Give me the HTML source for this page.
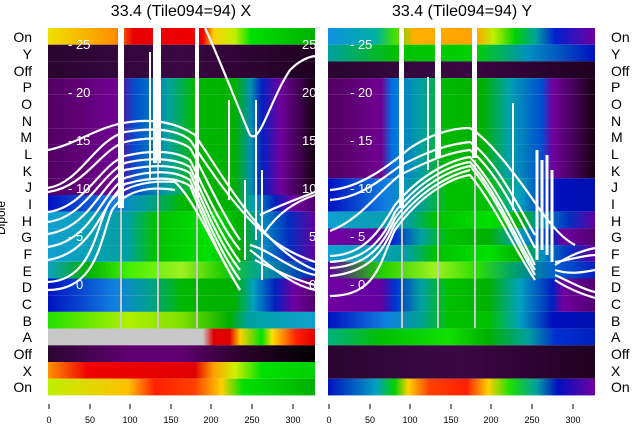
<!DOCTYPE html>
<html><head><meta charset="utf-8"><style>
body{margin:0;background:#fff;}
svg{display:block;font-family:"Liberation Sans",sans-serif;}
</style></head><body>
<svg width="640" height="440" viewBox="0 0 640 440">
<defs>
<linearGradient id="L0"><stop offset="0" stop-color="#f0e000"/><stop offset=".25" stop-color="#ff9000"/><stop offset=".32" stop-color="#e80000"/><stop offset=".58" stop-color="#f00000"/><stop offset=".62" stop-color="#ffd000"/><stop offset=".7" stop-color="#c0f000"/><stop offset=".76" stop-color="#00e000"/><stop offset="1" stop-color="#00b000"/></linearGradient>
<linearGradient id="Ldk"><stop offset="0" stop-color="#2a0630"/><stop offset=".5" stop-color="#3a0845"/><stop offset="1" stop-color="#200020"/></linearGradient>
<linearGradient id="Lp"><stop offset="0" stop-color="#500060"/><stop offset=".25" stop-color="#700090"/><stop offset=".33" stop-color="#0050d0"/><stop offset=".45" stop-color="#00a0a0"/><stop offset=".55" stop-color="#00b800"/><stop offset=".7" stop-color="#00b000"/><stop offset=".76" stop-color="#0090b0"/><stop offset=".8" stop-color="#0020c0"/><stop offset=".87" stop-color="#7000a0"/><stop offset=".94" stop-color="#400050"/><stop offset="1" stop-color="#150010"/></linearGradient>
<linearGradient id="Lb"><stop offset="0" stop-color="#0010c0"/><stop offset=".25" stop-color="#1080e0"/><stop offset=".38" stop-color="#00a090"/><stop offset=".5" stop-color="#00b800"/><stop offset=".7" stop-color="#00b000"/><stop offset=".77" stop-color="#00a0c0"/><stop offset=".85" stop-color="#0020c0"/><stop offset=".92" stop-color="#7000a0"/><stop offset="1" stop-color="#500070"/></linearGradient>
<linearGradient id="Lt"><stop offset="0" stop-color="#10a0d0"/><stop offset=".3" stop-color="#00a0a0"/><stop offset=".4" stop-color="#00c000"/><stop offset=".6" stop-color="#00e000"/><stop offset=".72" stop-color="#00b000"/><stop offset=".8" stop-color="#0090c0"/><stop offset=".9" stop-color="#0030c0"/><stop offset="1" stop-color="#6000a0"/></linearGradient>
<linearGradient id="LE"><stop offset="0" stop-color="#10a0c0"/><stop offset=".15" stop-color="#00b000"/><stop offset=".3" stop-color="#40f000"/><stop offset=".5" stop-color="#a0f020"/><stop offset=".65" stop-color="#20d000"/><stop offset=".8" stop-color="#00a0a0"/><stop offset="1" stop-color="#0020c0"/></linearGradient>
<linearGradient id="LB"><stop offset="0" stop-color="#20e000"/><stop offset=".3" stop-color="#b0f000"/><stop offset=".5" stop-color="#80e000"/><stop offset=".68" stop-color="#00b000"/><stop offset=".75" stop-color="#00a0a0"/><stop offset="1" stop-color="#10a0d0"/></linearGradient>
<linearGradient id="LA"><stop offset="0" stop-color="#c8c8c8"/><stop offset=".58" stop-color="#c8c8c8"/><stop offset=".62" stop-color="#e00000"/><stop offset=".68" stop-color="#e00000"/><stop offset=".72" stop-color="#ffd000"/><stop offset=".8" stop-color="#00e000"/><stop offset=".84" stop-color="#ffe000"/><stop offset=".93" stop-color="#ff2000"/><stop offset="1" stop-color="#e00000"/></linearGradient>
<linearGradient id="LO"><stop offset="0" stop-color="#2a0630"/><stop offset=".3" stop-color="#600070"/><stop offset=".5" stop-color="#600070"/><stop offset=".7" stop-color="#300030"/><stop offset="1" stop-color="#000000"/></linearGradient>
<linearGradient id="LX"><stop offset="0" stop-color="#ff9000"/><stop offset=".15" stop-color="#f00000"/><stop offset=".55" stop-color="#e00000"/><stop offset=".62" stop-color="#ffa000"/><stop offset=".7" stop-color="#d0f000"/><stop offset=".8" stop-color="#00e000"/><stop offset="1" stop-color="#00d000"/></linearGradient>
<linearGradient id="LN"><stop offset="0" stop-color="#c0f000"/><stop offset=".3" stop-color="#ffc000"/><stop offset=".4" stop-color="#ff2000"/><stop offset=".55" stop-color="#ff4000"/><stop offset=".65" stop-color="#ffd000"/><stop offset=".73" stop-color="#00e000"/><stop offset="1" stop-color="#00b000"/></linearGradient>
<linearGradient id="R0"><stop offset="0" stop-color="#1090e0"/><stop offset=".18" stop-color="#00b0a0"/><stop offset=".25" stop-color="#40e000"/><stop offset=".32" stop-color="#ffb000"/><stop offset=".55" stop-color="#ffa000"/><stop offset=".62" stop-color="#c0f000"/><stop offset=".7" stop-color="#00d000"/><stop offset=".78" stop-color="#00a0a0"/><stop offset=".85" stop-color="#0020d0"/><stop offset="1" stop-color="#7000a0"/></linearGradient>
<linearGradient id="RY"><stop offset="0" stop-color="#00a0a0"/><stop offset=".25" stop-color="#00c000"/><stop offset=".55" stop-color="#00d000"/><stop offset=".75" stop-color="#0090c0"/><stop offset="1" stop-color="#0010c0"/></linearGradient>
<linearGradient id="Rp"><stop offset="0" stop-color="#500060"/><stop offset=".2" stop-color="#700090"/><stop offset=".24" stop-color="#0070e0"/><stop offset=".35" stop-color="#00a0a0"/><stop offset=".44" stop-color="#00b800"/><stop offset=".58" stop-color="#00b000"/><stop offset=".68" stop-color="#00a0b0"/><stop offset=".8" stop-color="#0050d0"/><stop offset=".84" stop-color="#7000a0"/><stop offset=".93" stop-color="#400050"/><stop offset="1" stop-color="#150010"/></linearGradient>
<linearGradient id="Rb"><stop offset="0" stop-color="#0010c0"/><stop offset=".22" stop-color="#1080e0"/><stop offset=".35" stop-color="#00a090"/><stop offset=".45" stop-color="#00c000"/><stop offset=".6" stop-color="#00c000"/><stop offset=".72" stop-color="#00a0c0"/><stop offset=".84" stop-color="#0010c0"/><stop offset="1" stop-color="#0010b0"/></linearGradient>
<linearGradient id="Rv"><stop offset="0" stop-color="#7000a0"/><stop offset=".2" stop-color="#6000a0"/><stop offset=".25" stop-color="#0030d0"/><stop offset=".35" stop-color="#00a0a0"/><stop offset=".45" stop-color="#00c000"/><stop offset=".6" stop-color="#00b000"/><stop offset=".72" stop-color="#00a0c0"/><stop offset=".84" stop-color="#0020c0"/><stop offset=".88" stop-color="#7000a0"/><stop offset="1" stop-color="#500070"/></linearGradient>
<linearGradient id="RE"><stop offset="0" stop-color="#6000a0"/><stop offset=".2" stop-color="#20d000"/><stop offset=".4" stop-color="#a0f020"/><stop offset=".55" stop-color="#30e000"/><stop offset=".7" stop-color="#00a070"/><stop offset=".85" stop-color="#0060d0"/><stop offset="1" stop-color="#0020c0"/></linearGradient>
<linearGradient id="RA"><stop offset="0" stop-color="#00b080"/><stop offset=".2" stop-color="#00c000"/><stop offset=".45" stop-color="#10e000"/><stop offset=".6" stop-color="#00b000"/><stop offset=".75" stop-color="#00a0a0"/><stop offset=".85" stop-color="#0030d0"/><stop offset="1" stop-color="#0020c0"/></linearGradient>
<linearGradient id="RN"><stop offset="0" stop-color="#0010c0"/><stop offset=".18" stop-color="#00a0c0"/><stop offset=".25" stop-color="#00d000"/><stop offset=".3" stop-color="#ffd000"/><stop offset=".38" stop-color="#ff4000"/><stop offset=".52" stop-color="#ff2000"/><stop offset=".6" stop-color="#ffd000"/><stop offset=".68" stop-color="#20e000"/><stop offset=".78" stop-color="#00a0a0"/><stop offset=".86" stop-color="#0010c0"/><stop offset="1" stop-color="#7000a0"/></linearGradient>
</defs>

<text x="181" y="16" font-size="16" text-anchor="middle">33.4 (Tile094=94) X</text>
<text x="462" y="16" font-size="16" text-anchor="middle">33.4 (Tile094=94) Y</text>

<g>
<rect x="48" y="28" width="267" height="16.7" fill="url(#L0)"/>
<rect x="48" y="44.7" width="267" height="16.7" fill="url(#Ldk)"/>
<rect x="48" y="61.4" width="267" height="16.7" fill="url(#Ldk)"/>
<rect x="48" y="78.1" width="267" height="16.7" fill="url(#Lp)"/>
<rect x="48" y="94.8" width="267" height="16.7" fill="url(#Lp)"/>
<rect x="48" y="111.5" width="267" height="16.7" fill="url(#Lp)"/>
<rect x="48" y="128.2" width="267" height="16.7" fill="url(#Lp)"/>
<rect x="48" y="144.9" width="267" height="16.7" fill="url(#Lp)"/>
<rect x="48" y="161.6" width="267" height="16.7" fill="url(#Lp)"/>
<rect x="48" y="178.3" width="267" height="16.7" fill="url(#Lp)"/>
<rect x="48" y="195" width="267" height="16.7" fill="url(#Lb)"/>
<rect x="48" y="211.7" width="267" height="16.7" fill="url(#Lt)"/>
<rect x="48" y="228.4" width="267" height="16.7" fill="url(#Lt)"/>
<rect x="48" y="245.1" width="267" height="16.7" fill="url(#Lt)"/>
<rect x="48" y="261.8" width="267" height="16.7" fill="url(#LE)"/>
<rect x="48" y="278.5" width="267" height="16.7" fill="url(#Lb)"/>
<rect x="48" y="295.2" width="267" height="16.7" fill="url(#Lb)"/>
<rect x="48" y="311.9" width="267" height="16.7" fill="url(#LB)"/>
<rect x="48" y="328.6" width="267" height="16.7" fill="url(#LA)"/>
<rect x="48" y="345.3" width="267" height="16.7" fill="url(#LO)"/>
<rect x="48" y="362" width="267" height="16.7" fill="url(#LX)"/>
<rect x="48" y="378.7" width="267" height="16.7" fill="url(#LN)"/>
</g>
<g>
<rect x="328" y="28" width="267" height="16.7" fill="url(#R0)"/>
<rect x="328" y="44.7" width="267" height="16.7" fill="url(#RY)"/>
<rect x="328" y="61.4" width="267" height="16.7" fill="url(#Ldk)"/>
<rect x="328" y="78.1" width="267" height="16.7" fill="url(#Rp)"/>
<rect x="328" y="94.8" width="267" height="16.7" fill="url(#Rp)"/>
<rect x="328" y="111.5" width="267" height="16.7" fill="url(#Rp)"/>
<rect x="328" y="128.2" width="267" height="16.7" fill="url(#Rp)"/>
<rect x="328" y="144.9" width="267" height="16.7" fill="url(#Rp)"/>
<rect x="328" y="161.6" width="267" height="16.7" fill="url(#Rp)"/>
<rect x="328" y="178.3" width="267" height="16.7" fill="url(#Rb)"/>
<rect x="328" y="195" width="267" height="16.7" fill="url(#Rb)"/>
<rect x="328" y="211.7" width="267" height="16.7" fill="url(#Lt)"/>
<rect x="328" y="228.4" width="267" height="16.7" fill="url(#Rv)"/>
<rect x="328" y="245.1" width="267" height="16.7" fill="url(#Lt)"/>
<rect x="328" y="261.8" width="267" height="16.7" fill="url(#RE)"/>
<rect x="328" y="278.5" width="267" height="16.7" fill="url(#Rv)"/>
<rect x="328" y="295.2" width="267" height="16.7" fill="url(#Rv)"/>
<rect x="328" y="311.9" width="267" height="16.7" fill="url(#Rb)"/>
<rect x="328" y="328.6" width="267" height="16.7" fill="url(#RA)"/>
<rect x="328" y="345.3" width="267" height="16.7" fill="url(#Ldk)"/>
<rect x="328" y="362" width="267" height="16.7" fill="url(#Ldk)"/>
<rect x="328" y="378.7" width="267" height="16.7" fill="url(#RN)"/>
</g>

<g fill="#fff">
<rect x="118" y="28" width="6" height="180"/>
<rect x="153" y="28" width="8" height="135"/>
<rect x="195" y="28" width="4" height="170"/>
<rect x="399" y="28" width="5" height="180"/>
<rect x="435" y="28" width="6" height="130"/>
<rect x="472" y="28" width="5" height="130"/>
</g>
<g fill="#c8c8c8">
<rect x="120" y="208" width="2" height="120"/><rect x="157" y="160" width="2" height="168"/><rect x="196" y="200" width="2" height="128"/>
<rect x="401" y="208" width="2" height="120"/><rect x="437" y="160" width="2" height="168"/><rect x="474" y="160" width="2" height="168"/>
</g>

<g fill="#fff" font-size="13">
<text x="68" y="49">- 25</text><text x="68" y="97">- 20</text><text x="68" y="145">- 15</text><text x="68" y="193">- 10</text><text x="68" y="241">- 5</text><text x="68" y="289">- 0</text>
<text x="302" y="49">25</text><text x="302" y="97">20</text><text x="302" y="145">15</text><text x="302" y="193">10</text><text x="309" y="241">5</text><text x="309" y="289">0</text>
<text x="350" y="49">- 25</text><text x="350" y="97">- 20</text><text x="350" y="145">- 15</text><text x="350" y="193">- 10</text><text x="350" y="241">- 5</text><text x="350" y="289">- 0</text>
</g>

<g fill="none" stroke="#fff" stroke-width="2.2" stroke-linejoin="round">
<path d="M48,150 C75,145 100,125 130,122 C160,118 180,125 195,135 C215,165 230,190 250,215 C270,240 290,260 315,270"/>
<path d="M48,188 C80,183 95,140 125,132 C150,128 175,128 190,140 C210,170 230,200 255,225 C275,245 295,255 315,262"/>
<path d="M48,192 C85,187 100,150 125,142 C150,136 175,138 190,148 C205,175 220,210 240,240"/>
<path d="M48,212 C85,207 100,165 125,156 C150,150 175,150 190,160 C205,190 220,225 240,250"/>
<path d="M48,222 C85,217 100,175 125,163 C150,157 175,158 190,167 C205,200 220,235 240,262"/>
<path d="M48,234 C90,227 100,185 125,170 C150,165 175,164 190,173 C205,208 220,245 240,270"/>
<path d="M48,247 C92,240 100,195 125,178 C150,170 175,170 190,180 C205,215 220,252 240,280"/>
<path d="M48,260 C95,252 100,205 125,184 C150,177 175,176 190,186 C205,222 220,258 240,290"/>
<path d="M48,282 C92,280 95,230 108,205 C120,185 150,180 175,182 C195,200 215,250 240,290"/>
<path d="M48,290 C97,290 100,240 112,210 C125,190 150,186 175,190"/>
<path d="M205,28 C220,60 235,100 250,135 C260,145 270,100 290,70 C300,60 308,57 315,56"/>
<path d="M250,250 C270,265 290,285 315,290"/>
<path d="M250,245 C270,250 290,270 315,275"/>
<path d="M255,260 C275,270 295,280 315,285"/>
<path d="M265,232 C280,210 300,200 315,195"/>
<path d="M260,215 C280,205 300,198 315,192"/>
</g>
<g stroke="#fff" stroke-width="2">
<line x1="150" y1="52" x2="150" y2="180"/><line x1="256" y1="100" x2="256" y2="240"/><line x1="245" y1="180" x2="245" y2="260"/><line x1="262" y1="170" x2="262" y2="280"/>
<line x1="229" y1="100" x2="229" y2="200"/>
</g>

<g fill="none" stroke="#fff" stroke-width="2.2" stroke-linejoin="round">
<path d="M330,190 C360,188 390,165 410,148 C430,135 450,128 470,128 C490,140 520,180 540,210 C555,230 565,240 575,245"/>
<path d="M330,200 C360,198 380,180 400,166 C430,150 450,144 470,142 C495,160 515,200 535,235"/>
<path d="M330,231 C360,220 380,190 400,175 C430,160 450,152 470,150 C495,170 515,210 535,248"/>
<path d="M330,256 C365,255 380,230 395,205 C420,175 450,160 470,157 C495,185 515,225 535,265"/>
<path d="M330,262 C370,260 385,235 395,212 C420,180 450,165 470,162 C495,190 515,235 535,270"/>
<path d="M330,268 C372,266 385,240 395,218 C420,185 450,170 470,166 C495,195 515,240 535,275"/>
<path d="M330,276 C375,272 385,245 395,224 C420,190 450,175 470,170"/>
<path d="M330,296 C378,296 380,260 395,230 C420,195 450,178 470,175 C495,205 515,250 535,280"/>
<path d="M555,265 C570,255 585,250 595,248"/>
<path d="M555,262 C570,260 585,255 595,255"/>
<path d="M555,275 C570,282 585,290 595,292"/>
<path d="M555,280 C570,290 585,295 595,298"/>
<path d="M555,270 C570,275 585,272 595,270"/>
</g>
<g stroke="#fff" stroke-width="3">
<line x1="537" y1="150" x2="537" y2="260"/><line x1="542" y1="160" x2="542" y2="250"/><line x1="547" y1="155" x2="547" y2="255"/><line x1="552" y1="170" x2="552" y2="262"/>
<line x1="513" y1="103" x2="513" y2="210" stroke-width="2"/><line x1="428" y1="77" x2="428" y2="170" stroke-width="2"/>
</g>

<g font-size="14" text-anchor="end">
<text x="32" y="42">On</text><text x="32" y="59">Y</text><text x="32" y="76">Off</text><text x="32" y="92">P</text><text x="32" y="109">O</text><text x="32" y="126">N</text><text x="32" y="142">M</text><text x="32" y="159">L</text><text x="32" y="176">K</text><text x="32" y="192">J</text><text x="32" y="209">I</text><text x="32" y="226">H</text><text x="32" y="242">G</text><text x="32" y="259">F</text><text x="32" y="276">E</text><text x="32" y="292">D</text><text x="32" y="309">C</text><text x="32" y="326">B</text><text x="32" y="342">A</text><text x="32" y="359">Off</text><text x="32" y="376">X</text><text x="32" y="392">On</text>
</g>
<g font-size="14">
<text x="611" y="42">On</text><text x="611" y="59">Y</text><text x="611" y="76">Off</text><text x="611" y="92">P</text><text x="611" y="109">O</text><text x="611" y="126">N</text><text x="611" y="142">M</text><text x="611" y="159">L</text><text x="611" y="176">K</text><text x="611" y="192">J</text><text x="611" y="209">I</text><text x="611" y="226">H</text><text x="611" y="242">G</text><text x="611" y="259">F</text><text x="611" y="276">E</text><text x="611" y="292">D</text><text x="611" y="309">C</text><text x="611" y="326">B</text><text x="611" y="342">A</text><text x="611" y="359">Off</text><text x="611" y="376">X</text><text x="611" y="392">On</text>
</g>
<text transform="translate(5,218) rotate(-90)" font-size="12" text-anchor="middle">Dipole</text>

<g stroke="#000" stroke-width="1">
<line x1="49" y1="404" x2="49" y2="409"/><line x1="90" y1="404" x2="90" y2="409"/><line x1="130" y1="404" x2="130" y2="409"/><line x1="171" y1="404" x2="171" y2="409"/><line x1="211" y1="404" x2="211" y2="409"/><line x1="252" y1="404" x2="252" y2="409"/><line x1="293" y1="404" x2="293" y2="409"/>
<line x1="329" y1="404" x2="329" y2="409"/><line x1="370" y1="404" x2="370" y2="409"/><line x1="410" y1="404" x2="410" y2="409"/><line x1="451" y1="404" x2="451" y2="409"/><line x1="491" y1="404" x2="491" y2="409"/><line x1="532" y1="404" x2="532" y2="409"/><line x1="573" y1="404" x2="573" y2="409"/>
</g>
<g font-size="9" text-anchor="middle">
<text x="49" y="423">0</text><text x="90" y="423">50</text><text x="130" y="423">100</text><text x="171" y="423">150</text><text x="211" y="423">200</text><text x="252" y="423">250</text><text x="293" y="423">300</text>
<text x="329" y="423">0</text><text x="370" y="423">50</text><text x="410" y="423">100</text><text x="451" y="423">150</text><text x="491" y="423">200</text><text x="532" y="423">250</text><text x="573" y="423">300</text>
</g>
</svg>
</body></html>
